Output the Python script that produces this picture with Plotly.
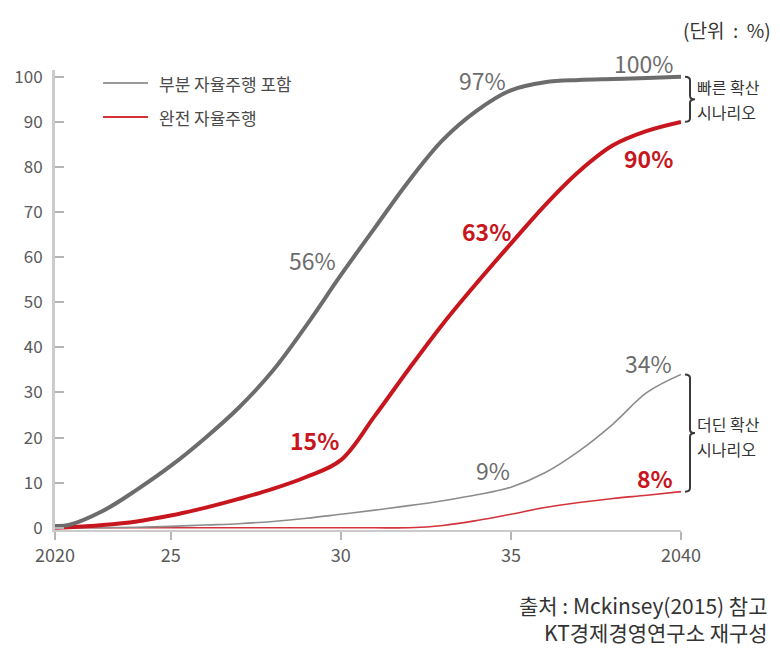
import plotly.graph_objects as go

# Adoption share of new cars (%) by year; the first point is the axis origin (labelled 2020)
years = [2021.6, 2022, 2023, 2024, 2025, 2026, 2027, 2028, 2029, 2030,
         2031, 2032, 2033, 2034, 2035, 2036, 2037, 2038, 2039, 2040]

# Fast diffusion scenario
fast_partial = [0.4, 0.6, 3.7, 8.4, 13.7, 19.8, 26.6, 34.8, 45.0, 56,
                66.5, 76.9, 86.0, 92.5, 97, 98.8, 99.3, 99.5, 99.7, 100]
fast_full = [0.0, 0.1, 0.6, 1.4, 2.7, 4.4, 6.4, 8.6, 11.3, 15,
             24.8, 35.2, 45.2, 54.3, 63, 71.5, 79.0, 84.8, 88.0, 90]

# Slow diffusion scenario
slow_partial = [0.0, 0.0, 0.0, 0.1, 0.3, 0.6, 0.9, 1.4, 2.1, 3.0,
                3.9, 4.9, 6.0, 7.3, 9, 12.2, 17.0, 23.0, 30.0, 34]
slow_full = [0.0, 0.0, 0.0, 0.0, 0.0, 0.0, 0.0, 0.0, 0.0, 0.0,
             0.0, 0.0, 0.5, 1.6, 3.0, 4.5, 5.6, 6.5, 7.2, 8]

tick_years = [years[0], 2025, 2030, 2035, 2040]
tick_text = ["2020", "25", "30", "35", "2040"]

FONT = "Noto Sans CJK KR"
GRAY = "#6c6c6c"
RED = "#c8161e"
GRAY_THIN = "#8c8c8c"
RED_THIN = "#d3343c"
AXIS = "#cbcbcb"

PLOT_W = 626  # plot area width in px (780 - margins)

fig = go.Figure()

spline = dict(shape="spline", smoothing=1.0)
fig.add_trace(go.Scatter(x=years, y=slow_full, mode="lines",
                         line=dict(color=RED_THIN, width=1.6, **spline),
                         showlegend=False, hoverinfo="skip"))
fig.add_trace(go.Scatter(x=years, y=slow_partial, mode="lines",
                         line=dict(color=GRAY_THIN, width=1.6, **spline),
                         showlegend=False, hoverinfo="skip"))
fig.add_trace(go.Scatter(x=years, y=fast_full, mode="lines",
                         line=dict(color=RED, width=4, **spline),
                         showlegend=False, hoverinfo="skip"))
fig.add_trace(go.Scatter(x=years, y=fast_partial, mode="lines",
                         line=dict(color=GRAY, width=4, **spline),
                         showlegend=False, hoverinfo="skip"))

annotations = []


def value_label(series, year, color, bold, dx, dy):
    v = series[years.index(year)]
    txt = f"{v:g}%"
    if bold:
        txt = f"<b>{txt}</b>"
    annotations.append(dict(x=year, y=v, xref="x", yref="y", text=txt, showarrow=False,
                            xshift=dx, yshift=dy, xanchor="center", yanchor="middle",
                            font=dict(family=FONT, size=23, color=color)))


value_label(fast_partial, 2030, GRAY, False, -28, 15)
value_label(fast_partial, 2035, GRAY, False, -28, 10)
value_label(fast_partial, 2040, GRAY, False, -38, 14)
value_label(fast_full, 2030, RED, True, -26, 20)
value_label(fast_full, 2035, RED, True, -24, 13)
value_label(fast_full, 2040, RED, True, -33, -36)
value_label(slow_partial, 2035, GRAY, False, -18, 17)
value_label(slow_partial, 2040, GRAY, False, -33, 11)
value_label(slow_full, 2040, RED, True, -26, 14)

shapes = []

# Legend swatches and labels
for y_p, col, label in [(0.9717, "#9a9a9a", "부분 자율주행 포함"), (0.8978, RED_THIN, "완전 자율주행")]:
    shapes.append(dict(type="line", xref="paper", yref="paper", x0=0.0767, x1=0.1486,
                       y0=y_p, y1=y_p, line=dict(color=col, width=2)))
    annotations.append(dict(x=0.163, y=y_p, xref="paper", yref="paper", text=label,
                            showarrow=False, xanchor="left", yanchor="middle",
                            font=dict(family=FONT, size=17, color="#4a4a4a")))


def brace(y_top, y_bot):
    """Curly brace to the right of the plot spanning y_top..y_bot (data units)."""
    mid = (y_top + y_bot) / 2
    r = 0.8
    xa = 1 + 4 / PLOT_W
    xb = 1 + 9 / PLOT_W
    xc = 1 + 14 / PLOT_W
    path = (f"M {xa},{y_top} Q {xb},{y_top} {xb},{y_top - r} L {xb},{mid + r} "
            f"Q {xb},{mid} {xc},{mid} Q {xb},{mid} {xb},{mid - r} L {xb},{y_bot + r} "
            f"Q {xb},{y_bot} {xa},{y_bot}")
    shapes.append(dict(type="path", path=path, xref="paper", yref="y",
                       line=dict(color="#3a3a3a", width=2)))


brace(fast_partial[-1], fast_full[-1])
brace(slow_partial[-1], slow_full[-1])

for y_p, text in [(0.963, "빠른 확산"), (0.909, "시나리오"),
                  (0.230, "더딘 확산"), (0.176, "시나리오")]:
    annotations.append(dict(x=1.0224, y=y_p, xref="paper", yref="paper", text=text,
                            showarrow=False, xanchor="left", yanchor="middle",
                            font=dict(family=FONT, size=16, color="#333333")))

annotations.append(dict(x=1.073, y=1.087, xref="paper", yref="paper", text="(단위  :  %)",
                        showarrow=False, xanchor="center", yanchor="middle",
                        font=dict(family=FONT, size=19, color="#333333")))

annotations.append(dict(x=1.142, y=-0.163, xref="paper", yref="paper",
                        text="출처 : Mckinsey(2015) 참고", showarrow=False,
                        xanchor="right", yanchor="middle",
                        font=dict(family=FONT, size=21, color="#333333")))
annotations.append(dict(x=1.142, y=-0.222, xref="paper", yref="paper",
                        text="KT경제경영연구소 재구성", showarrow=False,
                        xanchor="right", yanchor="middle",
                        font=dict(family=FONT, size=21, color="#333333")))

fig.update_layout(
    width=780, height=653,
    margin=dict(l=55, r=99, t=70, b=123),
    paper_bgcolor="white", plot_bgcolor="white",
    showlegend=False,
    annotations=annotations,
    shapes=shapes,
    xaxis=dict(range=[years[0], 2040], tickvals=tick_years, ticktext=tick_text,
               showgrid=False, zeroline=False, showline=True, linecolor=AXIS, linewidth=2,
               ticks="outside", ticklen=8, tickcolor="#b5b5b5", tickwidth=1.5,
               tickfont=dict(family=FONT, size=18, color="#5a5a5a")),
    yaxis=dict(range=[-0.5, 101.5], tickvals=list(range(0, 101, 10)),
               showgrid=False, zeroline=False, showline=True, linecolor=AXIS, linewidth=3,
               ticks="inside", ticklen=9, tickcolor="#b5b5b5", tickwidth=1.5,
               ticklabelstandoff=6,
               tickfont=dict(family=FONT, size=17, color="#5a5a5a")),
)

fig.write_html("out.html")
